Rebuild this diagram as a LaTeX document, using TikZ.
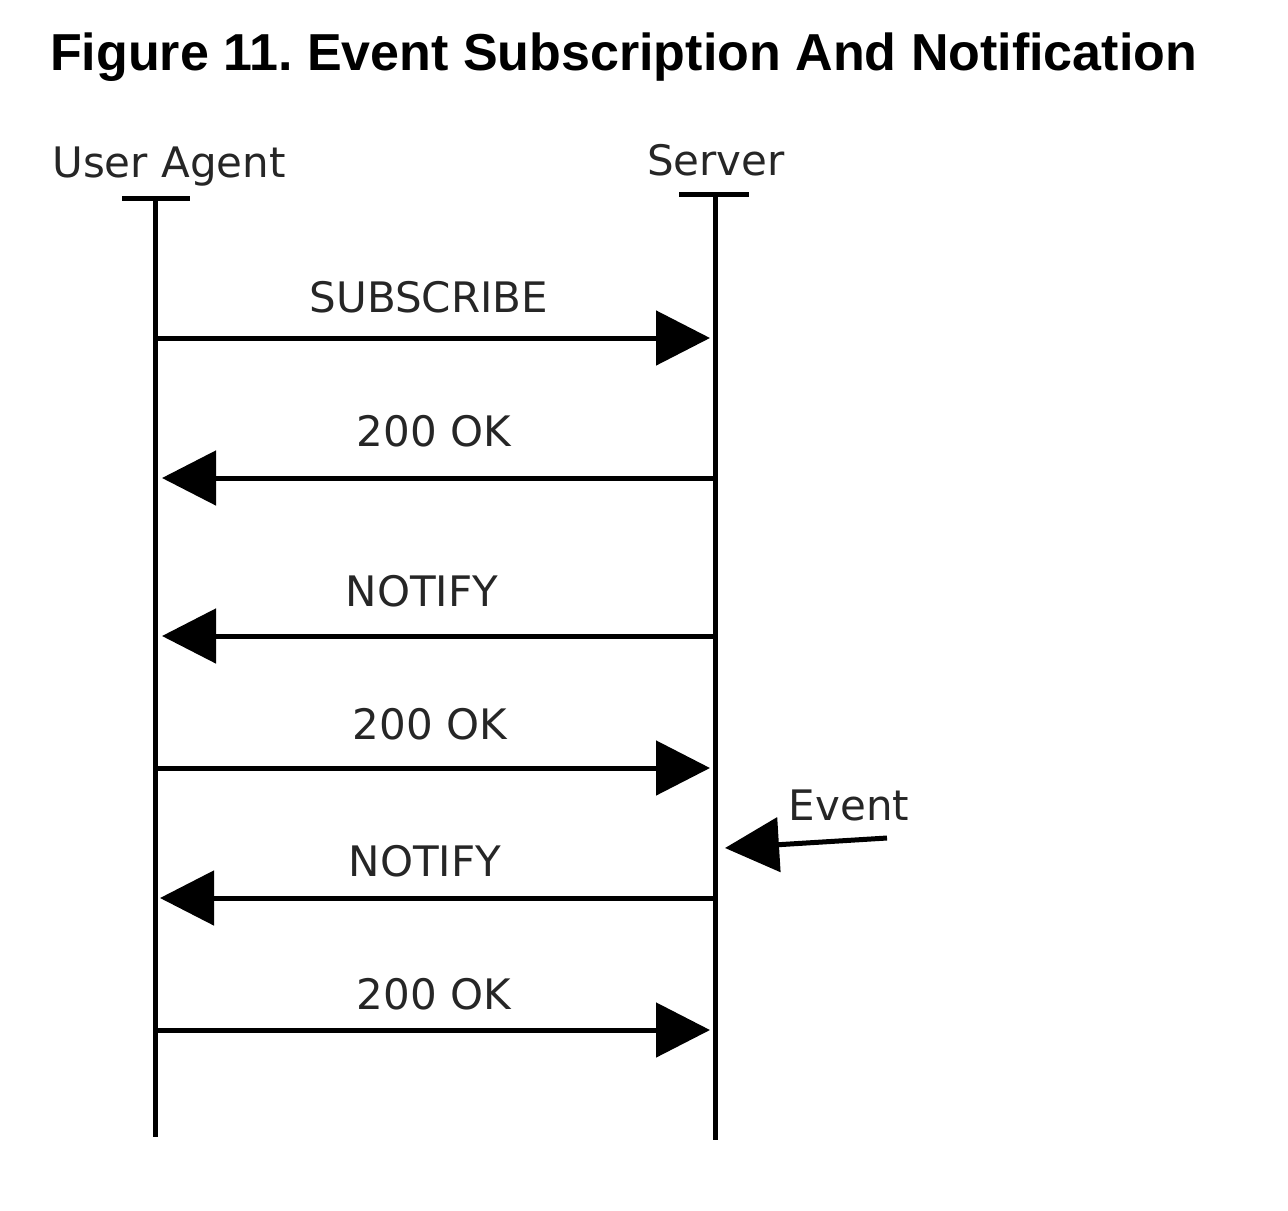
\documentclass[tikz,border=0pt]{standalone}
\usepackage{fontspec}
\setmainfont{DejaVu Sans}
\newfontfamily\titlefont{Liberation Sans}
\usepackage{tikz}
\usetikzlibrary{positioning, arrows.meta, calc}

\begin{document}
\begin{tikzpicture}[x=0.5pt, y=-0.5pt, every node/.style={inner sep=0pt, outer sep=0pt}]
	\tikzstyle{lifeline}=[line width=2.5pt, draw=black]
	\tikzstyle{tee}=[line width=2.5pt, draw=black]
	\tikzstyle{msg}=[line width=2.5pt, -{Triangle[length=27pt, width=27pt]}]
	\tikzstyle{msglabel}=[font=\fontsize{21}{25}\selectfont, anchor=base, text=black!85]
	
	\useasboundingbox (0,0) rectangle (1288,1210);
	
	\node[anchor=base west, font=\titlefont\bfseries\fontsize{26}{30}\selectfont] (title) at (50,70) {Figure 11.\ Event Subscription And Notification};
	
	%% lifeline heads
	\node[msglabel] (UA) at (169,177) {User Agent};
	\node[msglabel] (SV) at (716,175) {Server};
	
	\coordinate (uatop) at (155,198);
	\coordinate (uabot) at (155,1137);
	\coordinate (svtop) at (715,194);
	\coordinate (svbot) at (715,1140);
	
	\draw[tee] ($(uatop)+(-33,0)$) -- ($(uatop)+(35,0)$);
	\draw[tee] ($(svtop)+(-36,0)$) -- ($(svtop)+(34,0)$);
	\draw[lifeline] (uatop) -- (uabot);
	\draw[lifeline] (svtop) -- (svbot);
	
	%% message ends on the lifelines
	\foreach \i/\y in {1/338, 2/478, 3/636, 4/768, 5/898, 6/1030} {
		\coordinate (ua\i) at (155,\y);
		\coordinate (sv\i) at (715,\y);
	}
	
	\draw[msg, shorten >=2.5pt] (ua1) -- (sv1);
	\node[msglabel] (m1) at (429,312) {SUBSCRIBE};
	
	\draw[msg, shorten >=3.5pt] (sv2) -- (ua2);
	\node[msglabel] (m2) at (434,446) {200 OK};
	
	\draw[msg, shorten >=3.5pt] (sv3) -- (ua3);
	\node[msglabel] (m3) at (422,606) {NOTIFY};
	
	\draw[msg, shorten >=2.5pt] (ua4) -- (sv4);
	\node[msglabel] (m4) at (430,739) {200 OK};
	
	\draw[msg, shorten >=2.5pt] (sv5) -- (ua5);
	\node[msglabel] (m5) at (425,876) {NOTIFY};
	
	\draw[msg, shorten >=2.5pt] (ua6) -- (sv6);
	\node[msglabel] (m6) at (434,1009) {200 OK};
	
	%% external event
	\coordinate (evsrc) at (887,838);
	\coordinate (evtgt) at (725,848);
	\draw[msg] (evsrc) -- (evtgt);
	\node[msglabel] (ev) at (849,820) {Event};
\end{tikzpicture}
\end{document}
